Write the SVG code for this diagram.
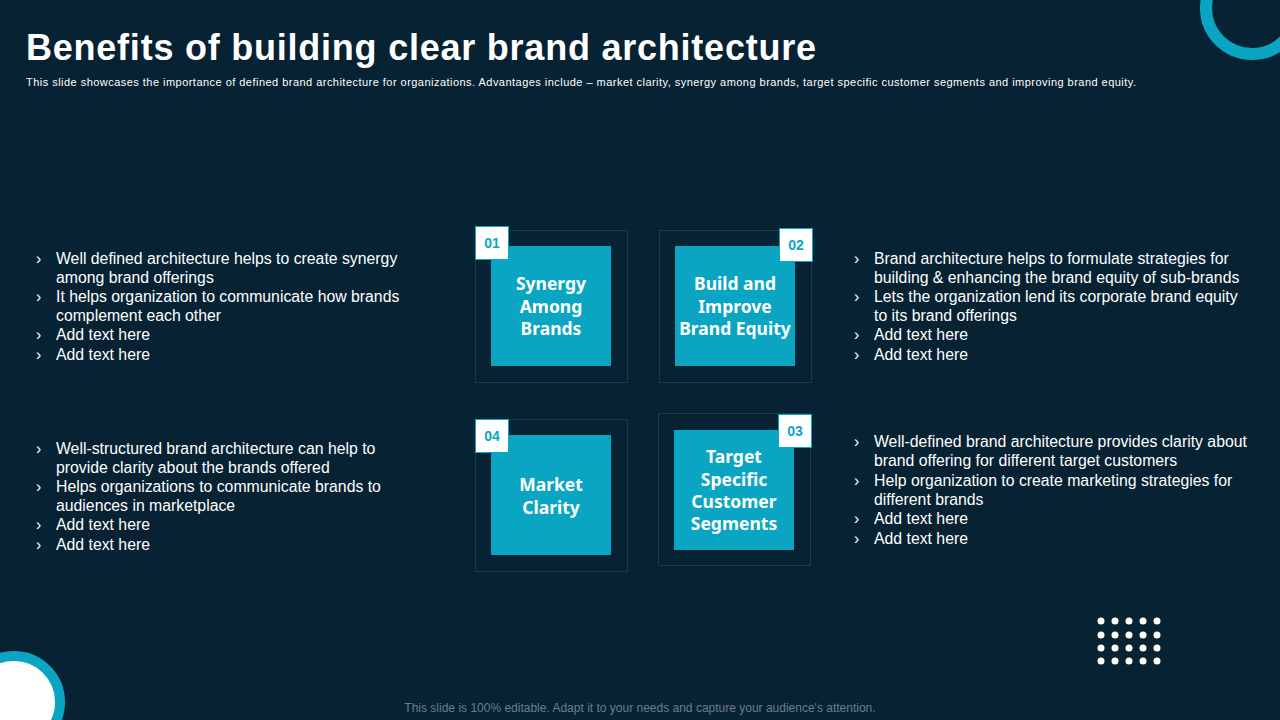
<svg xmlns="http://www.w3.org/2000/svg" width="1280" height="720" viewBox="0 0 1280 720">
<style>
.t{font-family:"Liberation Sans",Arial,sans-serif;fill:#fff}
.b{font-family:"Liberation Sans",Arial,sans-serif;fill:#fff;font-size:15.8px}
.o{fill:none;stroke:#1d3a4a;stroke-width:1}
.i{fill:#0ba5c4}
.n{fill:#fff;stroke:#0ba5c4;stroke-width:1}
.nt{font-family:"Liberation Sans",Arial,sans-serif;fill:#0ba5c4;font-size:14px;font-weight:bold;text-anchor:middle}
.c{font-family:"Noto Sans","Liberation Sans",sans-serif;fill:#fff;font-size:17.5px;font-weight:bold;text-anchor:middle}
</style>
<rect width="1280" height="720" fill="#062233"/>
<circle cx="1252" cy="8" r="46" fill="none" stroke="#0ba5c4" stroke-width="12"/>
<circle cx="14" cy="702" r="46" fill="#fff" stroke="#0ba5c4" stroke-width="10"/>
<text class="t" x="26" y="60" font-size="36" font-weight="bold" textLength="790" lengthAdjust="spacing">Benefits of building clear brand architecture</text>
<text class="t" x="26" y="86" font-size="11" textLength="1110" lengthAdjust="spacing">This slide showcases the importance of defined brand architecture for organizations. Advantages include – market clarity,  synergy among brands, target specific customer segments and improving brand equity.</text>
<g id="text-left-top" class="b">
<text x="36" y="264">›</text><text x="56" y="264">Well defined architecture helps to create synergy</text>
<text x="56" y="283">among brand offerings</text>
<text x="36" y="302">›</text><text x="56" y="302">It helps organization to communicate how brands</text>
<text x="56" y="321">complement each other</text>
<text x="36" y="340">›</text><text x="56" y="340">Add text here</text>
<text x="36" y="360">›</text><text x="56" y="360">Add text here</text>
</g>
<g id="text-left-bottom" class="b">
<text x="36" y="454">›</text><text x="56" y="454">Well-structured  brand architecture can help to</text>
<text x="56" y="473">provide clarity about the brands offered</text>
<text x="36" y="492">›</text><text x="56" y="492">Helps organizations to communicate brands to</text>
<text x="56" y="511">audiences in marketplace</text>
<text x="36" y="530">›</text><text x="56" y="530">Add text here</text>
<text x="36" y="550">›</text><text x="56" y="550">Add text here</text>
</g>
<g id="text-right-top" class="b">
<text x="854" y="264">›</text><text x="874" y="264">Brand architecture helps to formulate strategies for</text>
<text x="874" y="283">building &amp; enhancing the brand equity of sub-brands</text>
<text x="854" y="302">›</text><text x="874" y="302">Lets the organization lend its corporate brand equity</text>
<text x="874" y="321">to its brand offerings</text>
<text x="854" y="340">›</text><text x="874" y="340">Add text here</text>
<text x="854" y="360">›</text><text x="874" y="360">Add text here</text>
</g>
<g id="text-right-bottom" class="b">
<text x="854" y="447">›</text><text x="874" y="447">Well-defined brand architecture provides clarity about</text>
<text x="874" y="466">brand offering for different target customers</text>
<text x="854" y="486">›</text><text x="874" y="486">Help organization to create marketing strategies for</text>
<text x="874" y="505">different brands</text>
<text x="854" y="524">›</text><text x="874" y="524">Add text here</text>
<text x="854" y="544">›</text><text x="874" y="544">Add text here</text>
</g>
<g id="node-01">
<rect class="o" x="475.5" y="230.5" width="152" height="152"/>
<rect class="i" x="491" y="246" width="120" height="120"/>
<rect class="n" x="475.5" y="226.5" width="33" height="33"/>
<text class="nt" x="492" y="248">01</text>
<text class="c"><tspan x="551" y="290">Synergy</tspan><tspan x="551" y="313">Among</tspan><tspan x="551" y="335">Brands</tspan></text>
</g>
<g id="node-02">
<rect class="o" x="659.5" y="230.5" width="152" height="152"/>
<rect class="i" x="675" y="246" width="120" height="120"/>
<rect class="n" x="779.5" y="228.5" width="33" height="33"/>
<text class="nt" x="796" y="250">02</text>
<text class="c"><tspan x="735" y="290">Build and</tspan><tspan x="735" y="313">Improve</tspan><tspan x="735" y="335">Brand Equity</tspan></text>
</g>
<g id="node-04">
<rect class="o" x="475.5" y="419.5" width="152" height="152"/>
<rect class="i" x="491" y="435" width="120" height="120"/>
<rect class="n" x="475.5" y="419.5" width="33" height="33"/>
<text class="nt" x="492" y="441">04</text>
<text class="c"><tspan x="551" y="491">Market</tspan><tspan x="551" y="514">Clarity</tspan></text>
</g>
<g id="node-03">
<rect class="o" x="658.5" y="413.5" width="152" height="152"/>
<rect class="i" x="674" y="430" width="120" height="120"/>
<rect class="n" x="778.5" y="414.5" width="33" height="33"/>
<text class="nt" x="795" y="436">03</text>
<text class="c"><tspan x="734" y="463">Target</tspan><tspan x="734" y="486">Specific</tspan><tspan x="734" y="508">Customer</tspan><tspan x="734" y="530">Segments</tspan></text>
</g>
<g id="connectors"/>
<g id="dots" fill="#fff">
<circle cx="1101" cy="621" r="3.5"/><circle cx="1115" cy="621" r="3.5"/><circle cx="1129" cy="621" r="3.5"/><circle cx="1143" cy="621" r="3.5"/><circle cx="1157" cy="621" r="3.5"/>
<circle cx="1101" cy="635" r="3.5"/><circle cx="1115" cy="635" r="3.5"/><circle cx="1129" cy="635" r="3.5"/><circle cx="1143" cy="635" r="3.5"/><circle cx="1157" cy="635" r="3.5"/>
<circle cx="1101" cy="648" r="3.5"/><circle cx="1115" cy="648" r="3.5"/><circle cx="1129" cy="648" r="3.5"/><circle cx="1143" cy="648" r="3.5"/><circle cx="1157" cy="648" r="3.5"/>
<circle cx="1101" cy="661" r="3.5"/><circle cx="1115" cy="661" r="3.5"/><circle cx="1129" cy="661" r="3.5"/><circle cx="1143" cy="661" r="3.5"/><circle cx="1157" cy="661" r="3.5"/>
</g>
<text x="640" y="712" font-family="Liberation Sans,Arial,sans-serif" font-size="12" fill="#6f7f89" text-anchor="middle">This slide is 100% editable. Adapt it to your needs and capture your audience's attention.</text>
</svg>
